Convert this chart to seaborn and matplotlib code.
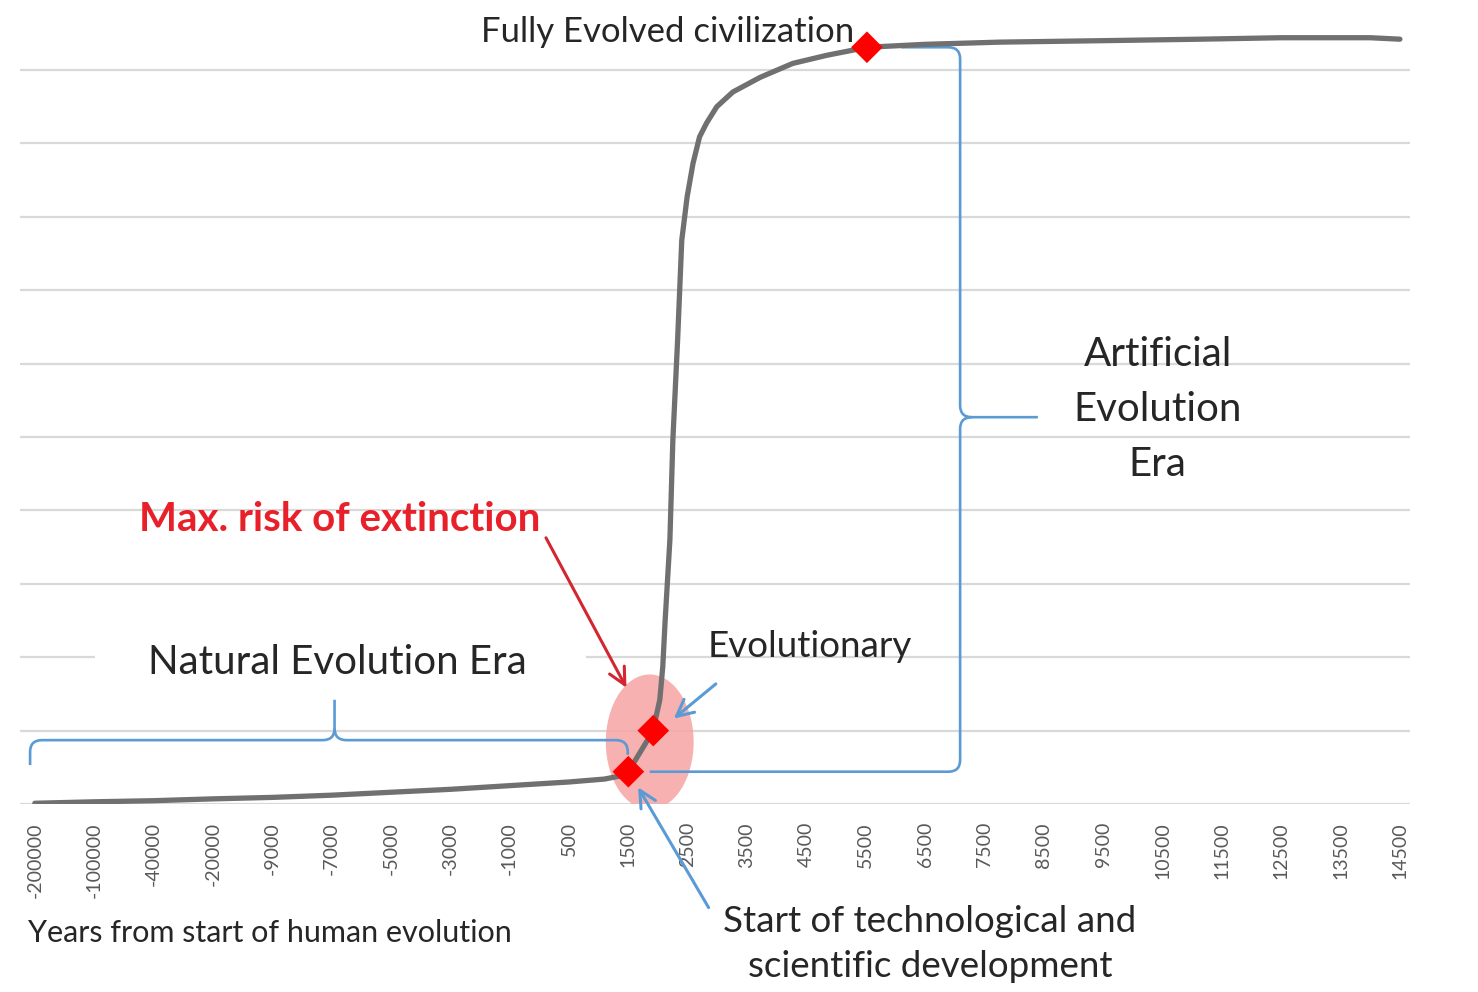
import numpy as np
import matplotlib
matplotlib.use("Agg")
import matplotlib.pyplot as plt
from matplotlib.path import Path
from matplotlib.patches import PathPatch, Ellipse, Rectangle
import seaborn as sns

year_labels = ["-200000", "-100000", "-40000", "-20000", "-9000", "-7000", "-5000",
               "-3000", "-1000", "500", "1500", "2500", "3500", "4500", "5500", "6500",
               "7500", "8500", "9500", "10500", "11500", "12500", "13500", "14500"]

# curve position along the category axis (index) and its level
curve_pos = [0, 1, 2, 3, 4, 5, 6, 7, 8, 9, 9.6, 9.85, 10, 10.42, 10.47, 10.53, 10.58,
             10.62, 10.70, 10.75, 10.83, 10.90, 10.99, 11.09, 11.2, 11.32, 11.49,
             11.76, 12.22, 12.77, 13.34, 13.78, 14.02, 15, 16.26, 18, 19.63, 21,
             22.5, 23]
curve_val = [0.01, 0.03, 0.045, 0.07, 0.09, 0.12, 0.16, 0.2, 0.25, 0.3, 0.34, 0.38,
             0.44, 1.0, 1.2, 1.42, 1.87, 2.5, 3.6, 4.96, 6.32, 7.68, 8.27, 8.73,
             9.09, 9.28, 9.5, 9.7, 9.9, 10.09, 10.2, 10.27, 10.31, 10.35, 10.38,
             10.4, 10.42, 10.44, 10.44, 10.42]

# highlighted points
key_pos = [10, 10.42, 14.02]
key_val = [0.44, 1.0, 10.31]

grid_levels = list(range(0, 11))

# ——— Style ———
sns.set_theme(style="white")
plt.rcParams["font.family"] = ["Lato", "DejaVu Sans"]

BLUE = "#5b9bd5"
RED = "#e8202a"
GRAY = "#707070"
TXT = "#262626"

fig = plt.figure(figsize=(14.78, 9.92), dpi=100)
ax = fig.add_axes([20 / 1478, 188 / 992, 1390 / 1478, 796 / 992])
ax.set_xlim(-0.25, 23.17)
ax.set_ylim(0, 10.845)

for g in grid_levels:
    ax.axhline(g, color="#d9d9d9", lw=1.6, zorder=0)

# white backing behind the left era label
ax.add_patch(Rectangle((1.01, 1.72), 8.27, 0.45, facecolor="white", edgecolor="none",
                       zorder=0.5))

# pink risk zone
ax.add_patch(Ellipse((10.36, 0.845), 1.48, 1.84, facecolor="#f6a4a4", alpha=0.85,
                     edgecolor="none", zorder=1))

sns.lineplot(x=curve_pos, y=curve_val, sort=False, color=GRAY, lw=3.8, ax=ax, zorder=3)
sns.scatterplot(x=key_pos, y=key_val, marker="D", s=260, color="#ff0000",
                edgecolor="none", ax=ax, zorder=4)

ax.set_xticks(range(len(year_labels)))
ax.set_xticklabels(year_labels, rotation=90, fontsize=14, color="#595959")
ax.set_yticks([])
ax.tick_params(axis="x", length=0, pad=13)
for s in ax.spines.values():
    s.set_visible(False)


def brace(verts, codes):
    ax.add_patch(PathPatch(Path(verts, codes), fill=False, edgecolor=BLUE, lw=1.9,
                           zorder=2, clip_on=False))


M, L, C = Path.MOVETO, Path.LINETO, Path.CURVE3
rx, ry = 0.2, 0.16

# left brace (Natural Evolution Era)
x0, yb0, yc, xm, yt, x1, yb1 = -0.08, 0.53, 0.87, 5.05, 1.42, 9.99, 0.67
brace([(x0, yb0), (x0, yc - ry), (x0, yc), (x0 + rx, yc), (xm - rx, yc), (xm, yc),
       (xm, yc + ry), (xm, yt)], [M, L, C, C, L, C, C, L])
brace([(x1, yb1), (x1, yc - ry), (x1, yc), (x1 - rx, yc), (xm + rx, yc), (xm, yc),
       (xm, yc + ry)], [M, L, C, C, L, C, C])

# right brace (Artificial Evolution Era)
xs, ytop, ymid, ybot, xtip, xtop, xbot = 15.59, 10.31, 5.27, 0.44, 16.9, 14.6, 10.36
brace([(xtop, ytop), (xs - rx, ytop), (xs, ytop), (xs, ytop - ry), (xs, ymid + ry),
       (xs, ymid), (xs + rx, ymid), (xtip, ymid)], [M, L, C, C, L, C, C, L])
brace([(xs + rx, ymid), (xs, ymid), (xs, ymid - ry), (xs, ybot + ry), (xs, ybot),
       (xs - rx, ybot), (xbot, ybot)], [M, C, C, L, C, C, L])

# ——— Labels ———
ax.text(5.1, 1.93, "Natural Evolution Era", fontsize=29, color=TXT, ha="center",
        va="center", zorder=1.5)
ax.text(18.92, 5.37, "Artificial\nEvolution\nEra", fontsize=29, color=TXT,
        ha="center", va="center", linespacing=1.6)
ax.text(10.66, 10.52, "Fully Evolved civilization", fontsize=25, color=TXT,
        ha="center", va="center")
ax.text(5.14, 3.87, "Max. risk of extinction", fontsize=29, color=RED,
        fontweight="bold", ha="center", va="center")
ax.text(13.06, 2.14, "Evolutionary", fontsize=26.5, color=TXT, ha="center",
        va="center")

head = "->,head_length=1.0,head_width=0.5"
ax.annotate("", xy=(9.99, 1.55), xytext=(8.59, 3.66),
            arrowprops=dict(arrowstyle=head, color="#d42630", lw=2.2))
ax.annotate("", xy=(10.73, 1.14), xytext=(11.51, 1.66),
            arrowprops=dict(arrowstyle=head, color=BLUE, lw=2.2))
ax.annotate("", xy=(10.14, 0.26), xytext=(710, 992 - 910), textcoords="figure pixels",
            arrowprops=dict(arrowstyle=head, color=BLUE, lw=2.2), annotation_clip=False)

fig.text(930 / 1478, 1 - 944 / 992, "Start of technological and\nscientific development",
         fontsize=26.5, color=TXT, ha="center", va="center", linespacing=1.45)
fig.text(28 / 1478, 1 - 933 / 992, "Years from start of human evolution", fontsize=22,
         color=TXT, ha="left", va="center")

fig.savefig("out.png", dpi=100)
